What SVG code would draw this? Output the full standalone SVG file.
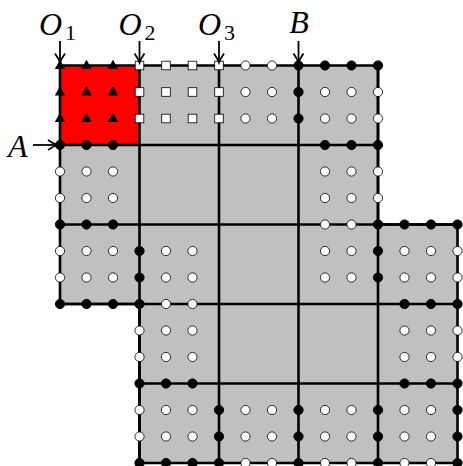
<svg xmlns="http://www.w3.org/2000/svg" width="463" height="466" viewBox="0 0 463 466">
<style>
.grid{stroke:#000;stroke-width:2.6;fill:none;stroke-linecap:square}
.b{fill:#000;stroke:#000;stroke-width:1}
.w{fill:#fff;stroke:#000;stroke-width:0.8}
.sq{fill:#fff;stroke:#000;stroke-width:0.8}
.tri{fill:#000}
.lbl{font-family:"Liberation Serif","DejaVu Serif",serif;font-style:italic;font-size:32px;fill:#000}
.sub{font-style:normal;font-size:22px}
.arr{stroke:#000;stroke-width:1.8;fill:none}
</style>
<defs>
<marker id="ah" markerUnits="userSpaceOnUse" markerWidth="16" markerHeight="16" refX="0" refY="0" viewBox="-11 -8 13 16" orient="auto" overflow="visible">
<path d="M-9,-5 Q-3.5,-1.2 0,0 Q-3.5,1.2 -9,5" stroke="#000" stroke-width="1.8" fill="none"/>
</marker>
<circle id="bc" r="4.6" class="b"/>
<circle id="wc" r="4.6" class="w"/>
<rect id="ws" x="-4.3" y="-4.3" width="8.6" height="8.6" class="sq"/>
<path id="tr" d="M0,-5.8 L5.2,3.6 L-5.2,3.6 Z" class="tri"/>
</defs>
<g id="region">
<path d="M60,65.5 H378 V224.5 H457.5 V463 H139.5 V304 H60 Z" fill="#c0c0c0"/>
<rect id="cell-red" x="60" y="65.5" width="79.5" height="79.5" fill="#ff0000"/>
</g>
<g id="gridlines" class="grid">
<path d="M139.5,65.5 V463 M219,65.5 V463 M298.5,65.5 V463 M378,65.5 V463"/>
<path d="M60,145 H378 M60,224.5 H457.5 M60,304 H457.5 M139.5,383.5 H457.5"/>
<path d="M60,65.5 H378 V224.5 H457.5 V463 H139.5 V304 H60 Z"/>
</g>
<g id="triangles">
<use href="#tr" x="60" y="65.5"/><use href="#tr" x="86.5" y="65.5"/><use href="#tr" x="113" y="65.5"/>
<use href="#tr" x="60" y="92"/><use href="#tr" x="86.5" y="92"/><use href="#tr" x="113" y="92"/>
<use href="#tr" x="60" y="118.5"/><use href="#tr" x="86.5" y="118.5"/><use href="#tr" x="113" y="118.5"/>
</g>
<g id="squares">
<use href="#ws" x="139.5" y="65.5"/><use href="#ws" x="166" y="65.5"/><use href="#ws" x="192.5" y="65.5"/><use href="#ws" x="219" y="65.5"/>
<use href="#ws" x="139.5" y="92"/><use href="#ws" x="166" y="92"/><use href="#ws" x="192.5" y="92"/><use href="#ws" x="219" y="92"/>
<use href="#ws" x="139.5" y="118.5"/><use href="#ws" x="166" y="118.5"/><use href="#ws" x="192.5" y="118.5"/><use href="#ws" x="219" y="118.5"/>
</g>
<g id="white-points">
<use href="#wc" x="245.5" y="65.5"/><use href="#wc" x="272" y="65.5"/>
<use href="#wc" x="245.5" y="92"/><use href="#wc" x="272" y="92"/><use href="#wc" x="325" y="92"/><use href="#wc" x="351.5" y="92"/><use href="#wc" x="378" y="92"/>
<use href="#wc" x="245.5" y="118.5"/><use href="#wc" x="272" y="118.5"/><use href="#wc" x="325" y="118.5"/><use href="#wc" x="351.5" y="118.5"/><use href="#wc" x="378" y="118.5"/>
<use href="#wc" x="60" y="171.5"/><use href="#wc" x="86.5" y="171.5"/><use href="#wc" x="113" y="171.5"/><use href="#wc" x="325" y="171.5"/><use href="#wc" x="351.5" y="171.5"/><use href="#wc" x="378" y="171.5"/>
<use href="#wc" x="60" y="198"/><use href="#wc" x="86.5" y="198"/><use href="#wc" x="113" y="198"/><use href="#wc" x="325" y="198"/><use href="#wc" x="351.5" y="198"/><use href="#wc" x="378" y="198"/>
<use href="#wc" x="325" y="224.5"/><use href="#wc" x="351.5" y="224.5"/>
<use href="#wc" x="60" y="251"/><use href="#wc" x="86.5" y="251"/><use href="#wc" x="113" y="251"/><use href="#wc" x="166" y="251"/><use href="#wc" x="192.5" y="251"/><use href="#wc" x="325" y="251"/><use href="#wc" x="351.5" y="251"/><use href="#wc" x="404.5" y="251"/><use href="#wc" x="431" y="251"/><use href="#wc" x="457.5" y="251"/>
<use href="#wc" x="60" y="277.5"/><use href="#wc" x="86.5" y="277.5"/><use href="#wc" x="113" y="277.5"/><use href="#wc" x="166" y="277.5"/><use href="#wc" x="192.5" y="277.5"/><use href="#wc" x="325" y="277.5"/><use href="#wc" x="351.5" y="277.5"/><use href="#wc" x="404.5" y="277.5"/><use href="#wc" x="431" y="277.5"/><use href="#wc" x="457.5" y="277.5"/>
<use href="#wc" x="166" y="304"/><use href="#wc" x="192.5" y="304"/>
<use href="#wc" x="139.5" y="330.5"/><use href="#wc" x="166" y="330.5"/><use href="#wc" x="192.5" y="330.5"/><use href="#wc" x="404.5" y="330.5"/><use href="#wc" x="431" y="330.5"/><use href="#wc" x="457.5" y="330.5"/>
<use href="#wc" x="139.5" y="357"/><use href="#wc" x="166" y="357"/><use href="#wc" x="192.5" y="357"/><use href="#wc" x="404.5" y="357"/><use href="#wc" x="431" y="357"/><use href="#wc" x="457.5" y="357"/>
<use href="#wc" x="139.5" y="410"/><use href="#wc" x="166" y="410"/><use href="#wc" x="192.5" y="410"/><use href="#wc" x="245.5" y="410"/><use href="#wc" x="272" y="410"/><use href="#wc" x="325" y="410"/><use href="#wc" x="351.5" y="410"/><use href="#wc" x="404.5" y="410"/><use href="#wc" x="431" y="410"/>
<use href="#wc" x="139.5" y="436.5"/><use href="#wc" x="166" y="436.5"/><use href="#wc" x="192.5" y="436.5"/><use href="#wc" x="245.5" y="436.5"/><use href="#wc" x="272" y="436.5"/><use href="#wc" x="325" y="436.5"/><use href="#wc" x="351.5" y="436.5"/><use href="#wc" x="404.5" y="436.5"/><use href="#wc" x="431" y="436.5"/>
<use href="#wc" x="245.5" y="463"/><use href="#wc" x="272" y="463"/><use href="#wc" x="325" y="463"/><use href="#wc" x="351.5" y="463"/><use href="#wc" x="404.5" y="463"/><use href="#wc" x="431" y="463"/>
</g>
<g id="black-points">
<use href="#bc" x="298.5" y="65.5"/><use href="#bc" x="325" y="65.5"/><use href="#bc" x="351.5" y="65.5"/><use href="#bc" x="378" y="65.5"/>
<use href="#bc" x="298.5" y="92"/><use href="#bc" x="298.5" y="118.5"/>
<use href="#bc" x="60" y="145"/><use href="#bc" x="86.5" y="145"/><use href="#bc" x="113" y="145"/><use href="#bc" x="325" y="145"/><use href="#bc" x="351.5" y="145"/><use href="#bc" x="378" y="145"/>
<use href="#bc" x="60" y="224.5"/><use href="#bc" x="86.5" y="224.5"/><use href="#bc" x="113" y="224.5"/><use href="#bc" x="378" y="224.5"/><use href="#bc" x="404.5" y="224.5"/><use href="#bc" x="431" y="224.5"/><use href="#bc" x="457.5" y="224.5"/>
<use href="#bc" x="139.5" y="251"/><use href="#bc" x="378" y="251"/>
<use href="#bc" x="139.5" y="277.5"/><use href="#bc" x="378" y="277.5"/>
<use href="#bc" x="60" y="304"/><use href="#bc" x="86.5" y="304"/><use href="#bc" x="113" y="304"/><use href="#bc" x="139.5" y="304"/><use href="#bc" x="404.5" y="304"/><use href="#bc" x="431" y="304"/><use href="#bc" x="457.5" y="304"/>
<use href="#bc" x="139.5" y="383.5"/><use href="#bc" x="166" y="383.5"/><use href="#bc" x="192.5" y="383.5"/><use href="#bc" x="404.5" y="383.5"/><use href="#bc" x="431" y="383.5"/><use href="#bc" x="457.5" y="383.5"/>
<use href="#bc" x="219" y="410"/><use href="#bc" x="298.5" y="410"/><use href="#bc" x="378" y="410"/><use href="#bc" x="457.5" y="410"/>
<use href="#bc" x="219" y="436.5"/><use href="#bc" x="298.5" y="436.5"/><use href="#bc" x="378" y="436.5"/><use href="#bc" x="457.5" y="436.5"/>
<use href="#bc" x="139.5" y="463"/><use href="#bc" x="166" y="463"/><use href="#bc" x="192.5" y="463"/><use href="#bc" x="219" y="463"/><use href="#bc" x="298.5" y="463"/><use href="#bc" x="378" y="463"/><use href="#bc" x="457.5" y="463"/>
</g>
<g id="connectors" class="arr">
<line x1="60" y1="41" x2="60" y2="62.5" marker-end="url(#ah)"/>
<line x1="139.5" y1="41" x2="139.5" y2="62.5" marker-end="url(#ah)"/>
<line x1="219" y1="41" x2="219" y2="62.5" marker-end="url(#ah)"/>
<line x1="298.5" y1="41" x2="298.5" y2="62.5" marker-end="url(#ah)"/>
<line x1="33" y1="145" x2="57" y2="145" marker-end="url(#ah)"/>
</g>
<g id="label-O1"><text class="lbl" x="39" y="35">O<tspan class="sub" dx="3" dy="5">1</tspan></text></g>
<g id="label-O2"><text class="lbl" x="118.5" y="35">O<tspan class="sub" dx="3" dy="5">2</tspan></text></g>
<g id="label-O3"><text class="lbl" x="198" y="35">O<tspan class="sub" dx="3" dy="5">3</tspan></text></g>
<g id="label-B"><text class="lbl" x="299" y="33" text-anchor="middle">B</text></g>
<g id="label-A"><text class="lbl" x="8" y="157">A</text></g>
</svg>
